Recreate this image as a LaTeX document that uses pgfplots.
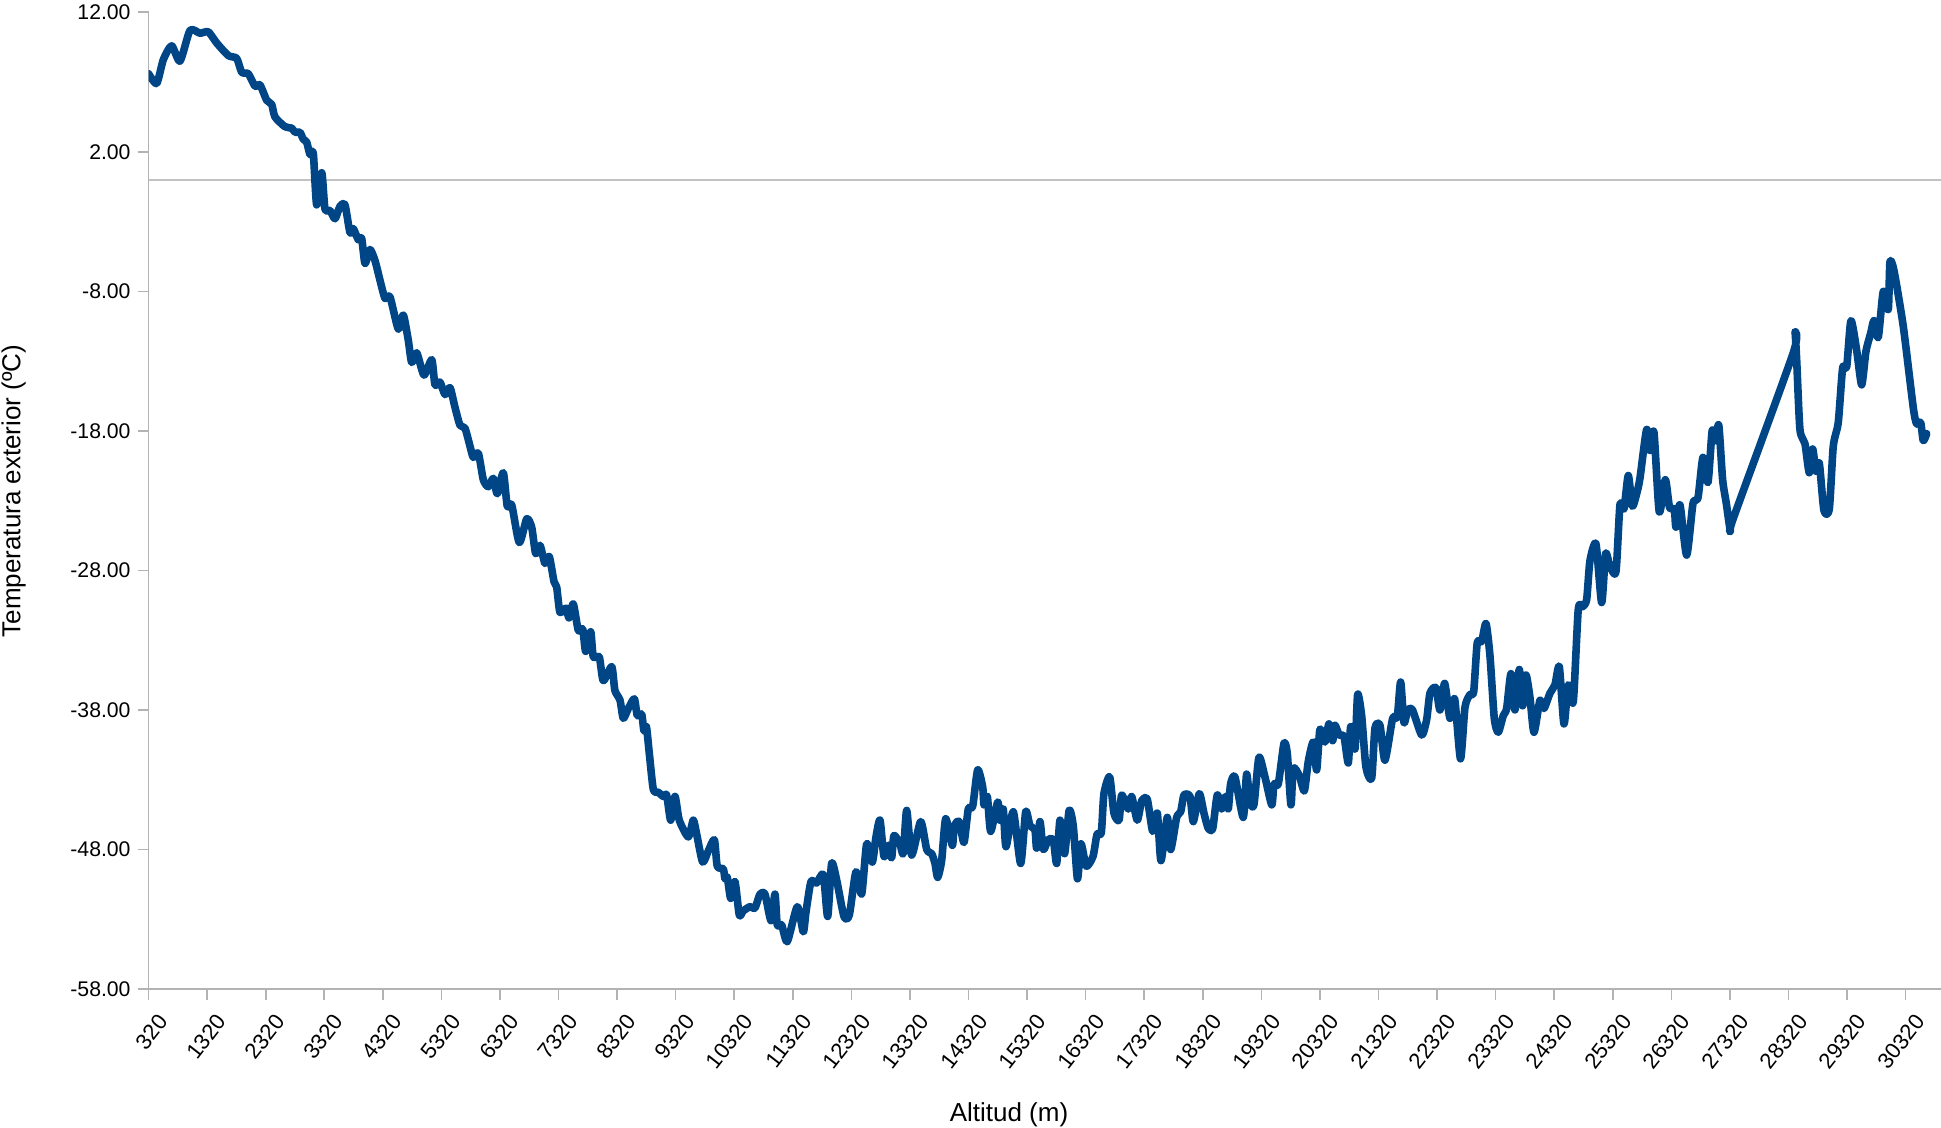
\documentclass[border=0pt]{standalone}
\usepackage{fontspec}
\setmainfont{Liberation Sans}
\usepackage{pgfplots}
\pgfplotsset{compat=1.18}

\definecolor{serie}{HTML}{004586}
\definecolor{eje}{HTML}{B3B3B3}

\pgfplotstableread{
alt temp
320 7.6
458 6.9
571 8.6
714 9.6
856 8.5
1027 10.7
1198 10.5
1339 10.6
1483 9.8
1681 8.9
1824 8.7
1910 7.7
2022 7.6
2137 6.7
2222 6.8
2336 5.7
2422 5.4
2478 4.5
2649 3.8
2763 3.7
2820 3.4
2905 3.4
2961 2.9
3019 2.7
3076 1.8
3132 1.9
3190 -1.8
3276 0.5
3332 -2.1
3417 -2.2
3503 -2.8
3588 -1.9
3673 -1.8
3759 -3.8
3815 -3.5
3900 -4.3
3958 -4.2
4015 -6.0
4100 -5.0
4186 -5.8
4271 -7.2
4356 -8.5
4442 -8.4
4583 -10.7
4669 -9.7
4754 -11.5
4812 -13.1
4898 -12.4
5022 -14.0
5154 -12.9
5210 -14.7
5295 -14.5
5381 -15.4
5466 -14.9
5551 -16.3
5637 -17.6
5722 -17.8
5808 -19.1
5864 -19.9
5950 -19.6
6035 -21.5
6120 -22.0
6206 -21.4
6274 -22.5
6376 -21.0
6444 -23.4
6520 -23.3
6649 -26.0
6776 -24.3
6861 -24.9
6929 -26.8
7003 -26.2
7088 -27.5
7161 -27.0
7242 -28.8
7288 -29.2
7344 -31.0
7447 -30.7
7498 -31.4
7571 -30.4
7657 -32.3
7732 -32.2
7783 -33.8
7868 -32.4
7913 -34.2
8015 -34.2
8084 -35.9
8227 -34.9
8282 -36.6
8369 -37.3
8425 -38.6
8511 -37.9
8613 -37.2
8664 -38.4
8739 -38.3
8778 -39.5
8820 -39.2
8869 -41.1
8938 -43.7
9023 -43.9
9108 -44.2
9166 -44.1
9234 -45.9
9308 -44.2
9381 -45.9
9535 -47.1
9620 -45.9
9678 -46.9
9780 -48.9
9877 -48.1
9979 -47.3
10030 -49.2
10133 -49.4
10161 -50.1
10201 -50.0
10259 -51.5
10332 -50.3
10406 -52.7
10474 -52.4
10588 -52.1
10673 -52.2
10759 -51.2
10844 -51.2
10947 -53.1
11015 -51.2
11054 -53.4
11129 -53.4
11225 -54.6
11396 -52.1
11498 -53.9
11544 -52.5
11630 -50.3
11727 -50.4
11840 -49.8
11915 -52.8
11983 -49.0
12069 -50.2
12193 -52.8
12284 -52.7
12398 -49.6
12495 -51.2
12581 -47.6
12677 -48.9
12740 -47.1
12808 -45.9
12876 -48.5
12950 -47.7
13007 -48.6
13047 -47.0
13149 -47.6
13206 -48.3
13264 -45.2
13349 -48.4
13503 -46.0
13606 -48.0
13691 -48.3
13747 -49.0
13793 -50.0
13861 -48.8
13930 -45.8
14043 -47.7
14077 -46.3
14162 -46.0
14242 -47.5
14316 -45.1
14391 -44.9
14476 -42.3
14561 -43.5
14584 -44.8
14641 -44.2
14698 -46.7
14818 -44.6
14857 -45.9
14913 -45.1
14960 -47.8
15084 -45.3
15210 -49.0
15296 -45.3
15369 -46.3
15454 -46.6
15483 -47.9
15540 -46.0
15596 -48.0
15682 -47.3
15767 -47.3
15825 -49.0
15882 -45.9
15960 -48.3
16038 -45.2
16108 -46.3
16180 -50.1
16240 -47.6
16330 -49.2
16445 -48.5
16515 -46.9
16587 -46.8
16632 -44.0
16730 -42.8
16803 -45.4
16890 -45.9
16935 -44.1
17048 -45.1
17106 -44.2
17201 -45.9
17277 -44.5
17372 -44.4
17464 -46.7
17543 -45.4
17606 -48.8
17713 -45.7
17772 -48.0
17874 -45.7
17942 -45.3
17999 -44.1
18101 -44.2
18158 -46.0
18260 -44.0
18340 -45.4
18414 -46.5
18489 -46.5
18567 -44.1
18642 -45.1
18710 -44.2
18755 -45.1
18795 -43.3
18869 -42.8
19010 -45.7
19068 -42.6
19125 -44.6
19193 -44.8
19279 -41.4
19381 -42.8
19497 -44.8
19536 -43.3
19609 -43.3
19706 -40.4
19762 -41.1
19825 -44.8
19865 -42.2
19967 -42.7
20053 -43.8
20121 -41.7
20206 -40.3
20264 -42.3
20320 -39.4
20405 -40.3
20474 -39.0
20537 -40.2
20576 -39.1
20650 -39.8
20730 -39.9
20804 -41.8
20845 -39.2
20918 -40.8
20964 -36.9
21032 -38.4
21106 -42.1
21203 -42.9
21260 -39.3
21345 -39.1
21430 -41.6
21562 -38.6
21640 -38.5
21698 -36.0
21755 -38.9
21820 -38.0
21900 -38.0
22057 -39.8
22142 -38.7
22199 -36.8
22300 -36.4
22369 -38.0
22450 -36.1
22540 -38.6
22620 -37.2
22720 -41.5
22797 -37.8
22881 -36.9
22945 -36.7
23006 -33.2
23081 -33.1
23155 -31.8
23223 -34.1
23297 -38.6
23365 -39.6
23451 -38.4
23508 -37.9
23582 -35.4
23650 -38.0
23724 -35.1
23782 -37.7
23838 -35.5
23906 -37.1
23975 -39.6
24077 -37.3
24145 -37.9
24248 -36.8
24333 -36.2
24407 -34.9
24487 -39.0
24560 -36.2
24646 -37.4
24731 -30.8
24806 -30.6
24874 -30.1
24931 -27.3
25033 -26.1
25130 -30.3
25198 -26.8
25272 -27.7
25374 -28.1
25443 -23.3
25511 -23.6
25585 -21.2
25653 -23.4
25728 -22.5
25784 -21.4
25898 -17.9
25955 -19.4
26023 -18.1
26114 -23.8
26217 -21.5
26290 -23.5
26370 -23.6
26399 -24.9
26467 -23.3
26582 -26.9
26690 -23.2
26775 -22.8
26860 -19.9
26945 -21.7
27017 -18.0
27072 -18.7
27130 -17.6
27196 -21.5
27259 -23.2
27328 -25.1
27384 -24.2
28402 -12.4
28431 -10.9
28460 -12.9
28516 -17.9
28601 -18.9
28675 -21.0
28733 -19.3
28789 -20.9
28846 -20.3
28926 -23.7
29017 -23.6
29085 -19.1
29170 -17.4
29245 -13.5
29314 -13.4
29387 -10.1
29484 -12.2
29570 -14.7
29643 -12.3
29724 -11.0
29780 -10.1
29853 -11.3
29939 -8.0
30024 -9.3
30053 -5.9
30121 -6.5
30280 -10.5
30450 -16.3
30508 -17.5
30577 -17.4
30622 -18.7
30680 -18.2
}\datos

\begin{document}
\begin{tikzpicture}
\begin{axis}[
  scale only axis,
  width=896.2pt, height=488.35pt,
  xmin=320, xmax=30925,
  ymin=-58, ymax=12,
  scaled x ticks=false,
  axis x line*=bottom, axis y line*=left,
  axis line style={eje, line width=0.8pt},
  tick align=outside,
  major tick length=5.5pt,
  tick style={eje, line width=0.8pt},
  xtick={320,1320,...,30320},
  xticklabels={320,1320,2320,3320,4320,5320,6320,7320,8320,9320,10320,11320,12320,13320,14320,15320,16320,17320,18320,19320,20320,21320,22320,23320,24320,25320,26320,27320,28320,29320,30320},
  ytick={-58,-48,-38,-28,-18,-8,2,12},
  yticklabels={-58.00,-48.00,-38.00,-28.00,-18.00,-8.00,2.00,12.00},
  xticklabel style={rotate=52, anchor=east, xshift=1pt, yshift=-11pt, font=\fontsize{11}{13}\selectfont},
  yticklabel style={font=\fontsize{10.6}{13}\selectfont},
  extra y ticks={0},
  extra y tick labels={},
  extra y tick style={grid=major, major grid style={color=eje!80, line width=0.8pt}, major tick length=0pt},
]
\addplot[serie, line width=3.8pt, smooth, tension=0.4, line join=round, line cap=round] table[x=alt, y=temp] {\datos};
\end{axis}
\node[rotate=90, font=\fontsize{13}{15}\selectfont] at (-67.5pt,249pt) {Temperatura exterior (ºC)};
\node[font=\fontsize{13}{15}\selectfont] at (430.2pt,-63pt) {Altitud (m)};
\pgfresetboundingbox
\path (-74.3pt,-69.5pt) rectangle (896.2pt,494.5pt);
\end{tikzpicture}
\end{document}
